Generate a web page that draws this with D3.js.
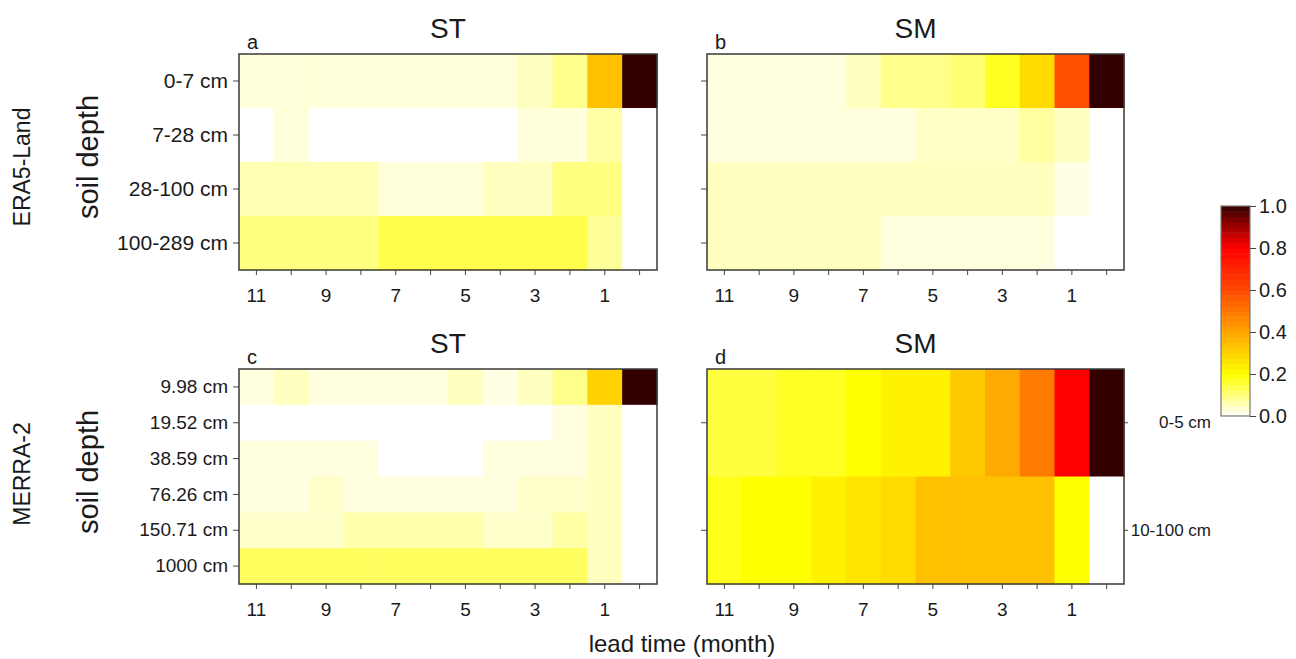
<!DOCTYPE html>
<html>
<head>
<meta charset="utf-8">
<script src="https://cdn.jsdelivr.net/npm/d3@7"></script>
<style>
  body { margin: 0; background: #fff; }
  text { font-family: "Liberation Sans", Arial, sans-serif; fill: #1a1a1a; }
  .tick line { stroke: #444; }
</style>
</head>
<body>
<svg id="chart" width="1296" height="659"></svg>
<script>
const svg = d3.select("#chart")

// lead times (months), left to right
const leads = [11, 10, 9, 8, 7, 6, 5, 4, 3, 2, 1, 0]
const tickLeads = [11, 9, 7, 5, 3, 1]

const era5Depths = ["0-7 cm", "7-28 cm", "28-100 cm", "100-289 cm"]
const merraStDepths = ["9.98 cm", "19.52 cm", "38.59 cm", "76.26 cm", "150.71 cm", "1000 cm"]
const merraSmDepths = ["0-5 cm", "10-100 cm"]

// panel a: ERA5-Land ST
const era5_st = [
  [0.03, 0.03, 0.03, 0.03, 0.03, 0.03, 0.03, 0.03, 0.05, 0.09, 0.34, 1.0],
  [0, 0.03, 0, 0, 0, 0, 0, 0, 0.03, 0.03, 0.07, 0],
  [0.06, 0.06, 0.06, 0.06, 0.03, 0.03, 0.03, 0.05, 0.05, 0.1, 0.1, 0],
  [0.1, 0.1, 0.1, 0.1, 0.14, 0.14, 0.14, 0.14, 0.14, 0.14, 0.08, 0]
]
// panel b: ERA5-Land SM
const era5_sm = [
  [0.025, 0.025, 0.025, 0.025, 0.05, 0.09, 0.09, 0.11, 0.175, 0.28, 0.59, 1.0],
  [0.025, 0.025, 0.025, 0.025, 0.025, 0.025, 0.045, 0.045, 0.045, 0.075, 0.05, 0],
  [0.05, 0.05, 0.05, 0.05, 0.05, 0.05, 0.05, 0.05, 0.05, 0.05, 0.02, 0],
  [0.05, 0.05, 0.05, 0.05, 0.05, 0.025, 0.025, 0.025, 0.025, 0.025, 0, 0]
]
// panel c: MERRA-2 ST
const merra_st = [
  [0.025, 0.05, 0.025, 0.025, 0.025, 0.025, 0.05, 0.02, 0.05, 0.09, 0.3, 1.0],
  [0, 0, 0, 0, 0, 0, 0, 0, 0, 0.025, 0.05, 0],
  [0.025, 0.025, 0.025, 0.025, 0, 0, 0, 0.025, 0.025, 0.025, 0.05, 0],
  [0.025, 0.025, 0.04, 0.025, 0.025, 0.025, 0.025, 0.025, 0.04, 0.04, 0.05, 0],
  [0.04, 0.04, 0.04, 0.065, 0.065, 0.065, 0.065, 0.04, 0.04, 0.07, 0.05, 0],
  [0.125, 0.125, 0.125, 0.125, 0.125, 0.125, 0.125, 0.125, 0.125, 0.125, 0.05, 0]
]
// panel d: MERRA-2 SM
const merra_sm = [
  [0.15, 0.15, 0.17, 0.17, 0.2, 0.23, 0.23, 0.32, 0.39, 0.49, 0.8, 1.0],
  [0.18, 0.2, 0.2, 0.23, 0.26, 0.28, 0.34, 0.34, 0.34, 0.34, 0.2, 0]
]

const legendTicks = [0, 0.2, 0.4, 0.6, 0.8, 1.0]

const color = d3.scaleLinear()
  .domain([0, 0.2, 0.4, 0.6, 0.8, 0.9, 1])
  .range(["#ffffff", "#ffff00", "#ffa500", "#ff4a00", "#ff0000", "#a00000", "#330000"])

const panels = [
  { letter: "a", title: "ST", values: era5_st, rows: era5Depths, x0: 239, x1: 657, y0: 54, y1: 270, labels: "left", fs: 21 },
  { letter: "b", title: "SM", values: era5_sm, rows: era5Depths, x0: 707, x1: 1124, y0: 54, y1: 270, labels: "none" },
  { letter: "c", title: "ST", values: merra_st, rows: merraStDepths, x0: 239, x1: 657, y0: 369, y1: 584, labels: "left", fs: 19 },
  { letter: "d", title: "SM", values: merra_sm, rows: merraSmDepths, x0: 707, x1: 1124, y0: 369, y1: 584, labels: "right", fs: 17 }
]

panels.forEach(drawPanel)

function drawPanel(p) {
  const x = d3.scaleBand().domain(leads).range([p.x0, p.x1])
  const y = d3.scaleBand().domain(p.rows).range([p.y0, p.y1])
  const g = svg.append("g")

  const cells = []
  p.values.forEach((row, i) => row.forEach((v, j) => cells.push({ row: p.rows[i], lead: leads[j], v: v })))

  g.selectAll("rect.cell")
    .data(cells)
    .enter().append("rect")
    .attr("class", "cell")
    .attr("x", d => x(d.lead))
    .attr("y", d => y(d.row))
    .attr("width", x.bandwidth() + 0.5)
    .attr("height", y.bandwidth() + 0.5)
    .attr("fill", d => color(d.v))

  // frame
  g.append("rect")
    .attr("x", p.x0).attr("y", p.y0)
    .attr("width", p.x1 - p.x0).attr("height", p.y1 - p.y0)
    .attr("fill", "none").attr("stroke", "#3a3a3a").attr("stroke-width", 1.5)

  // bottom axis
  const xAxis = d3.axisBottom(x)
    .tickSizeInner(5).tickSizeOuter(0).tickPadding(14)
    .tickFormat(d => tickLeads.includes(d) ? String(d) : "")
  const gx = g.append("g").attr("transform", `translate(0,${p.y1})`).call(xAxis)
  gx.select(".domain").remove()
  gx.selectAll("text").attr("font-size", 19).attr("font-family", null)

  // left axis
  const yAxis = d3.axisLeft(y).tickSizeInner(6).tickSizeOuter(0).tickPadding(5)
  if (p.labels !== "left") yAxis.tickFormat("")
  const gy = g.append("g").attr("transform", `translate(${p.x0},0)`).call(yAxis)
  gy.select(".domain").remove()
  gy.selectAll("text").attr("font-size", p.fs).attr("font-family", null)

  if (p.labels === "right") {
    const yr = d3.axisRight(y).tickSizeInner(4).tickSizeOuter(0).tickPadding(4)
    const gr = g.append("g").attr("transform", `translate(${p.x1},0)`).call(yr)
    gr.select(".domain").remove()
    gr.selectAll("text").attr("font-size", p.fs).attr("font-family", null)
      .attr("text-anchor", "end").attr("x", 1211 - p.x1)
  }

  g.append("text")
    .attr("x", (p.x0 + p.x1) / 2).attr("y", p.y0 - 16)
    .attr("text-anchor", "middle").attr("font-size", 28)
    .text(p.title)

  g.append("text")
    .attr("x", p.x0 + 8).attr("y", p.y0 - 5)
    .attr("font-size", 20)
    .text(p.letter)
}

// row titles
function rotLabel(text, cx, cy, size) {
  svg.append("text")
    .attr("transform", `translate(${cx},${cy}) rotate(-90)`)
    .attr("text-anchor", "middle").attr("dominant-baseline", "central")
    .attr("font-size", size)
    .text(text)
}
rotLabel("ERA5-Land", 22, 167, 23)
rotLabel("soil depth", 88, 157, 29)
rotLabel("MERRA-2", 22, 474, 23)
rotLabel("soil depth", 88, 472, 29)

svg.append("text")
  .attr("x", 682).attr("y", 652)
  .attr("text-anchor", "middle").attr("font-size", 24)
  .text("lead time (month)")

// colour bar
const cbX = 1221, cbW = 29
const cbScale = d3.scaleLinear().domain([0, 1]).range([416, 206])
const bands = d3.range(0, 1, 0.025)
svg.append("g").selectAll("rect")
  .data(bands)
  .enter().append("rect")
  .attr("x", cbX)
  .attr("y", d => cbScale(d + 0.025))
  .attr("width", cbW)
  .attr("height", cbScale(0) - cbScale(0.025) + 0.5)
  .attr("fill", d => color(d + 0.0125))
svg.append("rect")
  .attr("x", cbX).attr("y", cbScale(1))
  .attr("width", cbW).attr("height", cbScale(0) - cbScale(1))
  .attr("fill", "none").attr("stroke", "#777").attr("stroke-width", 1.2)

const cbAxis = d3.axisRight(cbScale).tickValues(legendTicks)
  .tickFormat(d3.format(".1f")).tickSizeInner(6).tickSizeOuter(0).tickPadding(3)
const gcb = svg.append("g").attr("transform", `translate(${cbX + cbW},0)`).call(cbAxis)
gcb.select(".domain").remove()
gcb.selectAll("line").attr("stroke", "#777")
gcb.selectAll("text").attr("font-size", 20).attr("font-family", null)
</script>
</body>
</html>
